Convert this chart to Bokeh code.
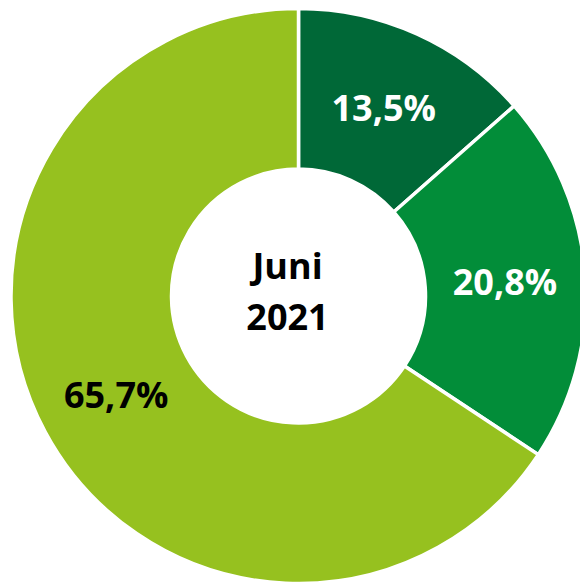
import math
from bokeh.plotting import figure
from bokeh.models import Range1d, ColumnDataSource
from bokeh.core.properties import value
from bokeh.embed import file_html
from bokeh.resources import INLINE

# Data
categories = ["A", "B", "C"]
shares = [13.5, 20.8, 65.7]
labels = ["13,5%", "20,8%", "65,7%"]
colors = ["#006837", "#028D39", "#96C11F"]
label_colors = ["white", "white", "black"]
center_lines = ["Juni", "2021"]

# Layout (pixels)
W, H = 580, 582
cx, cy = 298, -295.5
r_out, r_in = 287.5, 127
r_lab = 207

total = sum(shares)
starts, ends, lx, ly = [], [], [], []
acc = 0.0
for s in shares:
    a0 = math.pi / 2 - 2 * math.pi * acc / total
    a1 = math.pi / 2 - 2 * math.pi * (acc + s) / total
    starts.append(a0)
    ends.append(a1)
    mid = (a0 + a1) / 2
    lx.append(cx + r_lab * math.cos(mid))
    ly.append(cy + r_lab * math.sin(mid))
    acc += s

src = ColumnDataSource(dict(cat=categories, start=starts, end=ends, color=colors,
                            label=labels, lx=lx, ly=ly, lcol=label_colors))

p = figure(width=W, height=H, output_backend="svg", toolbar_location=None,
           x_range=Range1d(0, W), y_range=Range1d(-H, 0),
           min_border=0)
p.axis.visible = False
p.grid.visible = False
p.outline_line_color = None
p.background_fill_color = "white"
p.border_fill_color = "white"

p.annular_wedge(x=cx, y=cy, inner_radius=r_in, outer_radius=r_out,
                start_angle="start", end_angle="end", direction="clock",
                fill_color="color", line_color="white", line_width=3.5,
                source=src)

p.text(x="lx", y="ly", text="label", text_color="lcol", source=src,
       text_font=value("Open Sans"), text_font_style="bold",
       text_font_size="36px", text_align="center", text_baseline="middle")

p.text(x=[cx - 11, cx - 11], y=[cy + 31, cy - 21], text=center_lines,
       text_color="black", text_font=value("Open Sans"), text_font_style="bold",
       text_font_size="36px", text_align="center", text_baseline="middle")

open("out.html", "w").write(file_html(p, INLINE))
